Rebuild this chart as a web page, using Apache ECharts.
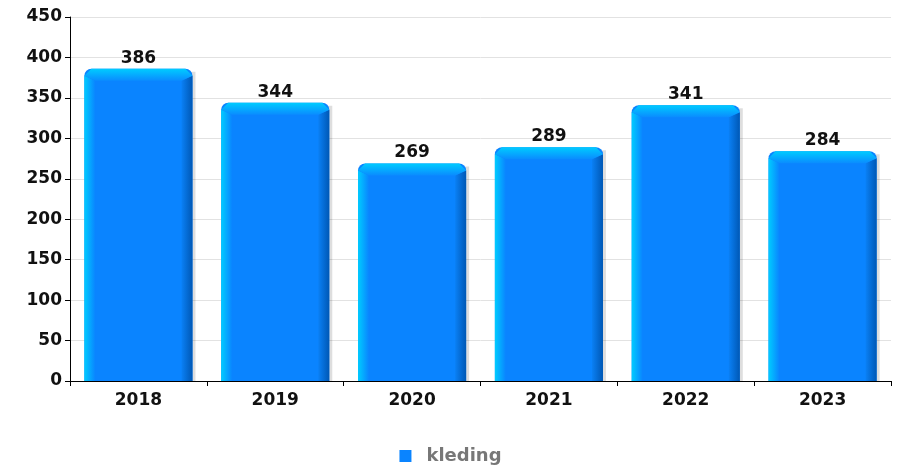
<!DOCTYPE html>
<html>
<head>
<meta charset="utf-8">
<script src="https://cdn.jsdelivr.net/npm/echarts@6/dist/echarts.min.js"></script>
<style>html,body{margin:0;padding:0;background:#fff}#c{width:901px;height:467px}</style>
</head>
<body>
<div id="c"></div>
<script>
var categories = ['2018', '2019', '2020', '2021', '2022', '2023'];
var seriesName = 'kleding';
var values = [386, 344, 269, 289, 341, 284];
var yTicks = { min: 0, max: 450, interval: 50 };

var chart = echarts.init(document.getElementById('c'), null, { renderer: 'canvas' });
var FONT = 'DejaVu Sans';

function renderItem(params, api) {
  var idx = api.value(0), val = api.value(1);
  var top = api.coord([idx, val]);
  var base = api.coord([idx, 0]);
  var band = api.size([1, 0])[0];
  var w = band * 0.79;
  var x0 = top[0] - w / 2, x1 = top[0] + w / 2;
  var yt = top[1], yb = base[1];
  var h = yb - yt;
  var bev = 11, c = 7;
  var children = [
    { type: 'rect', shape: { x: x0 + 3, y: yt + 3, width: w, height: h - 3 },
      style: { fill: 'rgba(0,0,0,0.13)' }, silent: true },
    { type: 'rect', shape: { x: x0, y: yt, width: w, height: h, r: [c, c, 0, 0] },
      style: { fill: '#0a84ff' } },
    { type: 'polygon', shape: { points: [[x0, yt + c], [x0 + bev, yt + c + 5], [x0 + bev, yb], [x0, yb]] },
      style: { fill: new echarts.graphic.LinearGradient(0, 0, 1, 0, [{ offset: 0, color: '#00ccff' }, { offset: 1, color: '#0a84ff' }]) } },
    { type: 'polygon', shape: { points: [[x1, yt + c], [x1, yb], [x1 - bev, yb], [x1 - bev, yt + c + 5]] },
      style: { fill: new echarts.graphic.LinearGradient(0, 0, 1, 0, [{ offset: 0, color: '#0a80f5' }, { offset: 1, color: '#0058b5' }]) } },
    { type: 'polygon', shape: { points: [[x0, yt + c], [x0 + c, yt], [x1 - c, yt], [x1, yt + c], [x1 - bev, yt + c + 5], [x0 + bev, yt + c + 5]] },
      style: { fill: new echarts.graphic.LinearGradient(0, 0, 0, 1, [{ offset: 0, color: '#00ccff' }, { offset: 1, color: '#0a8cff' }]) } },
    { type: 'text', x: top[0], y: yt - 2,
      style: { text: String(val), font: 'bold 17px "' + FONT + '"', fill: '#111', align: 'center', verticalAlign: 'bottom' } }
  ];
  return { type: 'group', children: children };
}

chart.setOption({
  animation: false,
  backgroundColor: '#fff',
  grid: { left: 70, right: 10, top: 17, bottom: 86, containLabel: false },
  legend: {
    bottom: -3, left: 'center', icon: 'rect', itemWidth: 12, itemHeight: 12, itemGap: 10,
    data: [seriesName],
    textStyle: { fontFamily: FONT, fontWeight: 'bold', fontSize: 18, color: '#777', padding: [0, 0, 0, 10] }
  },
  xAxis: {
    type: 'category', data: categories, boundaryGap: true,
    axisLine: { lineStyle: { color: '#000', width: 1 } },
    axisTick: { show: true, length: 5, lineStyle: { color: '#000' } },
    axisLabel: { margin: 11, color: '#111', fontFamily: FONT, fontWeight: 'bold', fontSize: 17 }
  },
  yAxis: {
    type: 'value', min: yTicks.min, max: yTicks.max, interval: yTicks.interval,
    axisLine: { show: true, lineStyle: { color: '#000', width: 1 } },
    axisTick: { show: true, length: 5, lineStyle: { color: '#000' } },
    splitLine: { lineStyle: { color: '#e2e2e2' } },
    axisLabel: { margin: 8, color: '#111', fontFamily: FONT, fontWeight: 'bold', fontSize: 17 }
  },
  series: [{
    name: seriesName, type: 'custom', renderItem: renderItem,
    itemStyle: { color: '#0a84ff' },
    encode: { x: 0, y: 1 },
    data: values.map(function (v, i) { return [i, v]; }),
    z: 2
  }]
});
</script>
</body>
</html>
